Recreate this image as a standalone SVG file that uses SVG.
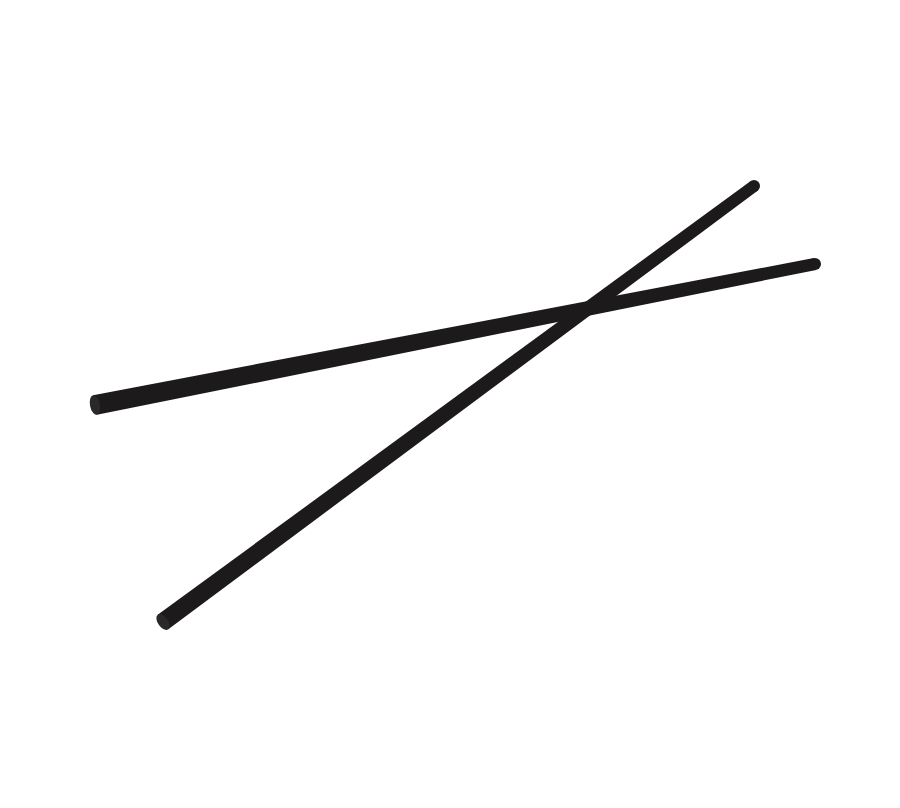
<svg xmlns="http://www.w3.org/2000/svg" width="900" height="808" viewBox="0 0 900 808">
<style>.s{fill:#1c1a1b}.e{fill:#2a2829}</style>
<rect width="900" height="808" fill="#fff"/>
<g id="stick1">
<polygon class="s" points="96.9,414.8 93.1,395.2 813.8,258.1 816.2,269.9"/>
<ellipse class="e" cx="95" cy="405" rx="5" ry="10" transform="rotate(-11 95 405)"/>
<circle class="s" cx="815" cy="264" r="6"/>
</g>
<g id="stick2">
<polygon class="s" points="168.3,629.2 157.7,614.8 750.4,181.2 757.6,190.8"/>
<ellipse class="e" cx="163" cy="622" rx="5" ry="9" transform="rotate(-36 163 622)"/>
<circle class="s" cx="754" cy="186" r="6"/>
</g>
</svg>
